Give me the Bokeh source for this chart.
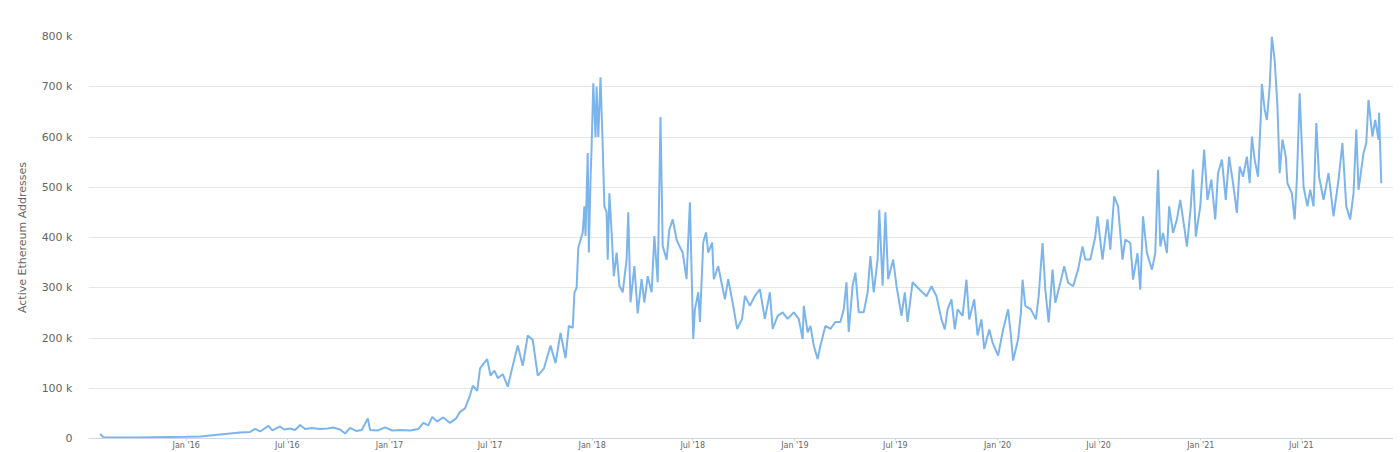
import pandas as pd
from bokeh.plotting import figure
from bokeh.models import ColumnDataSource, Range1d, FixedTicker, DatetimeTickFormatter
from bokeh.embed import file_html
from bokeh.resources import INLINE

# ---- data (active addresses, thousands) ----
dates = [
    "2015-07-30", "2015-08-05", "2015-09-01", "2015-10-01", "2015-11-01", "2015-12-01",
    "2016-01-01", "2016-01-26", "2016-02-13", "2016-03-02", "2016-03-20", "2016-04-07",
    "2016-04-25", "2016-05-04", "2016-05-13", "2016-05-28", "2016-06-04", "2016-06-18",
    "2016-06-25", "2016-07-06", "2016-07-15", "2016-07-24", "2016-08-02", "2016-08-14",
    "2016-08-29", "2016-09-12", "2016-09-21", "2016-10-04", "2016-10-13", "2016-10-22",
    "2016-11-02", "2016-11-12", "2016-11-23", "2016-11-27", "2016-12-11", "2016-12-24",
    "2017-01-06", "2017-01-20", "2017-02-07", "2017-02-22", "2017-03-03", "2017-03-12",
    "2017-03-19", "2017-03-28", "2017-04-08", "2017-04-20", "2017-05-01", "2017-05-08",
    "2017-05-17", "2017-05-26", "2017-05-31", "2017-06-08", "2017-06-13", "2017-06-20",
    "2017-06-26", "2017-07-02", "2017-07-09", "2017-07-15", "2017-07-24", "2017-08-02",
    "2017-08-11", "2017-08-20", "2017-08-29", "2017-09-07", "2017-09-16", "2017-09-25",
    "2017-10-06", "2017-10-18", "2017-10-27", "2017-11-05", "2017-11-14", "2017-11-20",
    "2017-11-27", "2017-11-30", "2017-12-04", "2017-12-07", "2017-12-15", "2017-12-18",
    "2017-12-20", "2017-12-24", "2017-12-26", "2017-12-29", "2017-12-31", "2018-01-03",
    "2018-01-07", "2018-01-09", "2018-01-12", "2018-01-16", "2018-01-20", "2018-01-23",
    "2018-01-27", "2018-01-29", "2018-02-01", "2018-02-05", "2018-02-09", "2018-02-14",
    "2018-02-19", "2018-02-25", "2018-03-04", "2018-03-07", "2018-03-11", "2018-03-18",
    "2018-03-24", "2018-03-31", "2018-04-05", "2018-04-11", "2018-04-18", "2018-04-23",
    "2018-04-29", "2018-05-04", "2018-05-08", "2018-05-15", "2018-05-20", "2018-05-26",
    "2018-06-02", "2018-06-07", "2018-06-13", "2018-06-20", "2018-06-22", "2018-06-26",
    "2018-07-02", "2018-07-05", "2018-07-11", "2018-07-14", "2018-07-20", "2018-07-25",
    "2018-07-29", "2018-08-05", "2018-08-08", "2018-08-16", "2018-08-23", "2018-08-28",
    "2018-09-03", "2018-09-12", "2018-09-19", "2018-09-28", "2018-10-03", "2018-10-12",
    "2018-10-21", "2018-10-30", "2018-11-08", "2018-11-17", "2018-11-22", "2018-12-01",
    "2018-12-10", "2018-12-19", "2018-12-30", "2019-01-08", "2019-01-15", "2019-01-17",
    "2019-01-24", "2019-01-29", "2019-02-04", "2019-02-11", "2019-02-16", "2019-02-25",
    "2019-03-06", "2019-03-15", "2019-03-24", "2019-03-30", "2019-04-04", "2019-04-08",
    "2019-04-15", "2019-04-20", "2019-04-26", "2019-05-05", "2019-05-12", "2019-05-17",
    "2019-05-23", "2019-05-30", "2019-06-02", "2019-06-08", "2019-06-13", "2019-06-18",
    "2019-06-27", "2019-07-03", "2019-07-12", "2019-07-18", "2019-07-23", "2019-08-01",
    "2019-08-14", "2019-08-26", "2019-09-04", "2019-09-13", "2019-09-22", "2019-09-28",
    "2019-10-03", "2019-10-10", "2019-10-16", "2019-10-21", "2019-10-30", "2019-11-06",
    "2019-11-11", "2019-11-20", "2019-11-26", "2019-12-03", "2019-12-08", "2019-12-17",
    "2019-12-23", "2020-01-02", "2020-01-11", "2020-01-20", "2020-01-25", "2020-01-29",
    "2020-02-07", "2020-02-12", "2020-02-15", "2020-02-20", "2020-03-01", "2020-03-10",
    "2020-03-15", "2020-03-22", "2020-03-27", "2020-04-02", "2020-04-09", "2020-04-14",
    "2020-04-23", "2020-04-30", "2020-05-07", "2020-05-16", "2020-05-25", "2020-06-02",
    "2020-06-07", "2020-06-16", "2020-06-25", "2020-06-29", "2020-07-08", "2020-07-17",
    "2020-07-22", "2020-07-29", "2020-08-05", "2020-08-13", "2020-08-18", "2020-08-27",
    "2020-09-01", "2020-09-09", "2020-09-14", "2020-09-19", "2020-09-26", "2020-10-05",
    "2020-10-11", "2020-10-16", "2020-10-20", "2020-10-25", "2020-11-01", "2020-11-05",
    "2020-11-12", "2020-11-19", "2020-11-25", "2020-12-02", "2020-12-07", "2020-12-14",
    "2020-12-18", "2020-12-23", "2020-12-31", "2021-01-07", "2021-01-13", "2021-01-20",
    "2021-01-27", "2021-02-01", "2021-02-08", "2021-02-15", "2021-02-21", "2021-02-28",
    "2021-03-07", "2021-03-12", "2021-03-18", "2021-03-25", "2021-03-30", "2021-04-03",
    "2021-04-08", "2021-04-14", "2021-04-19", "2021-04-21", "2021-04-26", "2021-04-30",
    "2021-05-05", "2021-05-09", "2021-05-14", "2021-05-19", "2021-05-23", "2021-05-28",
    "2021-06-03", "2021-06-06", "2021-06-14", "2021-06-19", "2021-06-23", "2021-06-28",
    "2021-07-05", "2021-07-12", "2021-07-17", "2021-07-23", "2021-07-28", "2021-08-02",
    "2021-08-10", "2021-08-19", "2021-08-28", "2021-09-06", "2021-09-13", "2021-09-20",
    "2021-09-27", "2021-10-03", "2021-10-08", "2021-10-12", "2021-10-21", "2021-10-26",
    "2021-10-30", "2021-11-06", "2021-11-11", "2021-11-17", "2021-11-18", "2021-11-22",
]

active_k = [
    9, 2.5, 2, 2, 2.5, 3,
    3.5, 4, 6, 8, 10, 12,
    13, 19, 14, 25, 16, 24,
    18, 20, 17, 27, 19, 21,
    19, 20, 22, 18, 10, 21,
    15, 17, 40, 17, 16, 22,
    16, 17, 16, 19, 31, 26,
    43, 34, 42, 31, 40, 53,
    60, 86, 105, 95, 139, 150,
    158, 125, 135, 120, 128, 103,
    145, 185, 145, 205, 196, 125,
    139, 185, 150, 210, 160, 224,
    220, 290, 300, 380, 410, 462,
    403, 568, 370, 515, 581, 707,
    600, 700, 600, 719, 581, 462,
    450, 356, 488, 410, 323, 370,
    304, 291, 356, 450, 271, 343,
    249, 317, 271, 323, 291, 403,
    311, 640, 383, 356, 416, 436,
    396, 383, 370, 317, 370, 470,
    198, 257, 291, 232, 390, 410,
    370, 390, 317, 343, 304, 277,
    317, 264, 218, 238, 284, 264,
    284, 297, 238, 291, 218, 244,
    251, 238, 251, 238, 198, 264,
    211, 224, 185, 158, 185, 224,
    218, 232, 232, 257, 311, 212,
    304, 330, 251, 251, 291, 363,
    291, 356, 455, 304, 450, 317,
    356, 304, 244, 291, 232, 311,
    296, 283, 303, 283, 237, 217,
    257, 277, 217, 257, 244, 316,
    237, 277, 205, 237, 178, 217,
    191, 165, 217, 257, 205, 155,
    198, 250, 316, 264, 257, 237,
    283, 389, 296, 231, 336, 270,
    310, 343, 310, 303, 336, 382,
    356, 356, 402, 442, 356, 436,
    376, 482, 462, 356, 396, 389,
    316, 369, 296, 442, 369, 336,
    369, 535, 382, 409, 369, 462,
    409, 436, 475, 422, 382, 462,
    535, 402, 462, 575, 475, 515,
    436, 528, 555, 475, 561, 508,
    449, 541, 521, 561, 508, 601,
    555, 521, 640, 706, 654, 634,
    700, 800, 753, 661, 528, 595,
    561, 508, 488, 436, 515, 687,
    501, 462, 495, 462, 628, 521,
    475, 528, 442, 515, 588, 462,
    436, 488, 615, 495, 568, 588,
    674, 601, 634, 595, 648, 508,
]

x_tick_dates = [
    "2016-01-01", "2016-07-01", "2017-01-01", "2017-07-01", "2018-01-01", "2018-07-01",
    "2019-01-01", "2019-07-01", "2020-01-01", "2020-07-01", "2021-01-01", "2021-07-01",
]
y_ticks = [0, 100, 200, 300, 400, 500, 600, 700, 800]
y_tick_labels = ["0", "100 k", "200 k", "300 k", "400 k", "500 k", "600 k", "700 k", "800 k"]
y_title = "Active Ethereum Addresses"

# ---- build ----
df = pd.DataFrame({"date": pd.to_datetime(dates), "active": active_k})
src = ColumnDataSource(df)

FONT = "DejaVu Sans"
GREY = "#666666"

p = figure(
    width=1393, height=452,
    x_axis_type="datetime",
    x_range=Range1d(pd.Timestamp("2015-07-09"), pd.Timestamp("2021-12-14")),
    y_range=Range1d(0, 800),
    output_backend="svg", toolbar_location=None,
    min_border_left=88, min_border_right=0, min_border_top=36, min_border_bottom=0,
)
p.outline_line_color = None
p.background_fill_color = "white"
p.border_fill_color = "white"

p.line("date", "active", source=src, line_color="#7cb5ec", line_width=2)

# grid
p.xgrid.visible = False
p.ygrid.ticker = FixedTicker(ticks=y_ticks)
p.ygrid.grid_line_color = "#e6e6e6"
p.ygrid.grid_line_width = 1

# x axis
xt = [float(pd.Timestamp(d).value // 10**6) for d in x_tick_dates]
xa = p.xaxis[0]
xa.ticker = FixedTicker(ticks=xt, minor_ticks=[])
fmt = "%b '%y"
xa.formatter = DatetimeTickFormatter(
    years=fmt, months=fmt, days=fmt, hours=fmt, minutes=fmt, seconds=fmt,
    milliseconds=fmt, microseconds=fmt, hourmin=fmt, minsec=fmt,
)
xa.axis_line_color = "#ccd6eb"
xa.major_tick_line_color = "#ccd6eb"
xa.major_tick_out = 2
xa.major_tick_in = 0
xa.minor_tick_line_color = None
xa.major_label_standoff = 0
xa.major_label_text_font = FONT
xa.major_label_text_font_size = "8px"
xa.major_label_text_color = GREY

# y axis
ya = p.yaxis[0]
ya.ticker = FixedTicker(ticks=y_ticks, minor_ticks=[])
ya.major_label_overrides = {t: l for t, l in zip(y_ticks, y_tick_labels)}
ya.axis_line_color = None
ya.major_tick_line_color = None
ya.minor_tick_line_color = None
ya.major_tick_out = 0
ya.major_tick_in = 0
ya.major_label_standoff = 16
ya.major_label_text_font = FONT
ya.major_label_text_font_size = "11px"
ya.major_label_text_color = GREY
ya.axis_label = y_title
ya.axis_label_standoff = 10
ya.axis_label_text_font = FONT
ya.axis_label_text_font_size = "11px"
ya.axis_label_text_font_style = "normal"
ya.axis_label_text_color = GREY

open("out.html", "w").write(file_html(p, INLINE))
